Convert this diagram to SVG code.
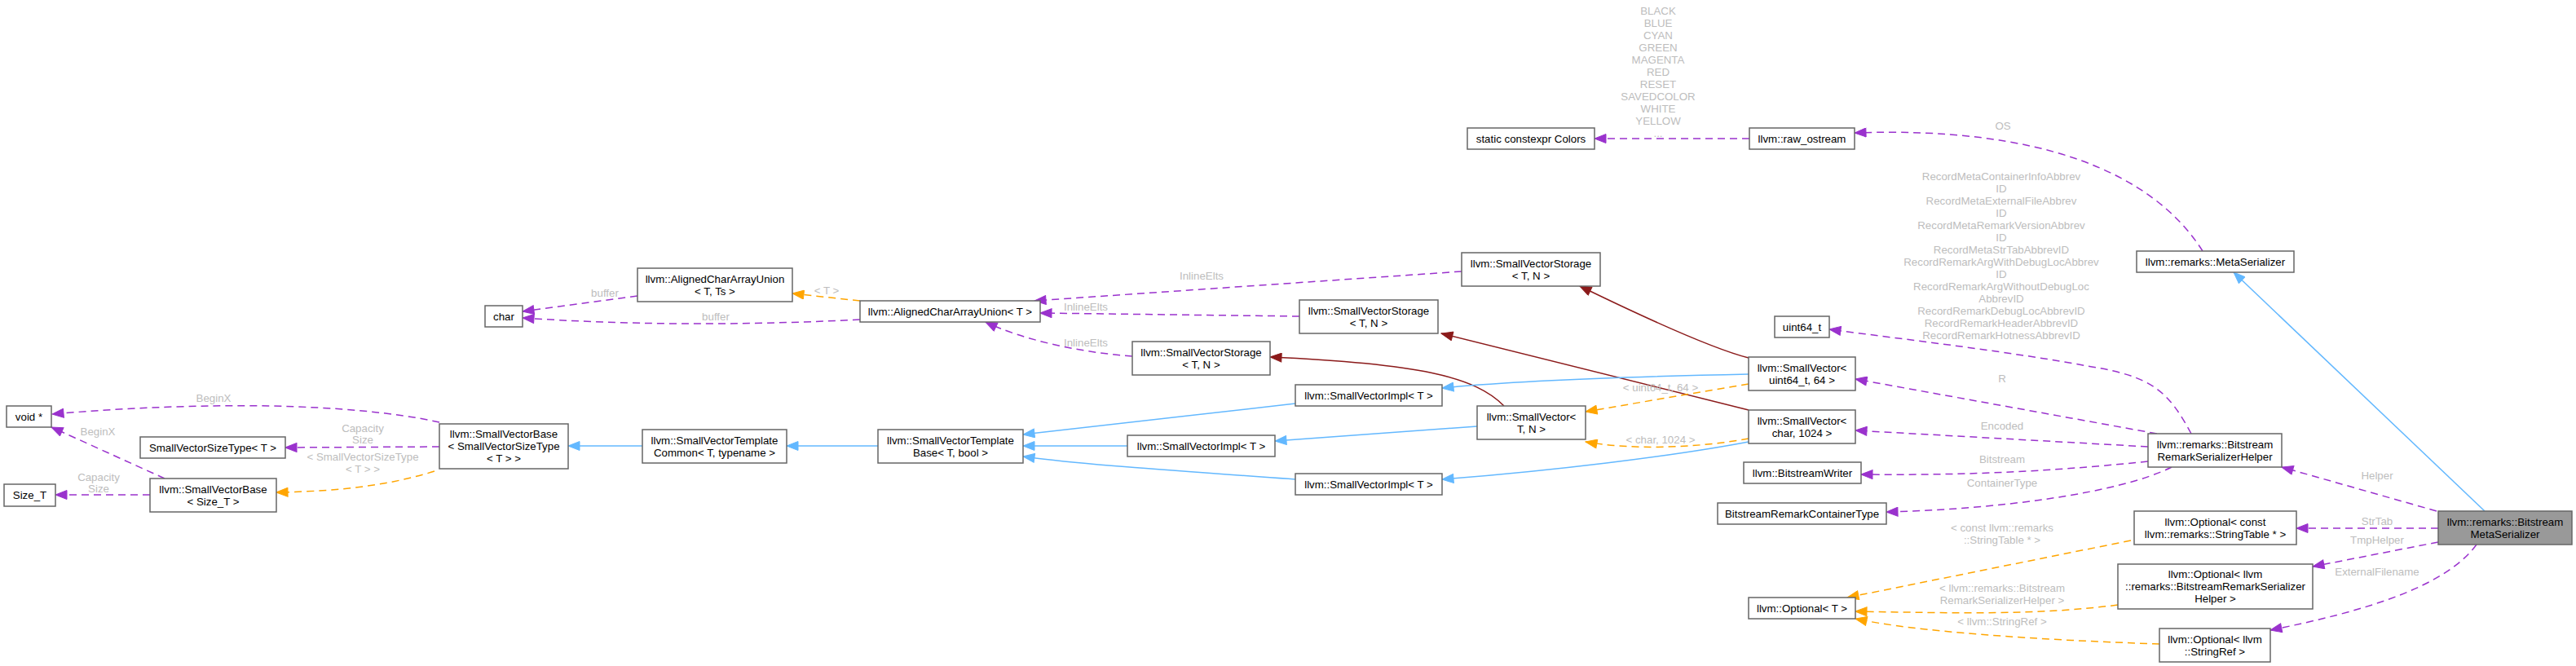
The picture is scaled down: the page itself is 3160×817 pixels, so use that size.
<svg xmlns="http://www.w3.org/2000/svg" width="3160" height="817" viewBox="0 0 3160 817">
<style>
.node rect{fill:#ffffff;stroke:#666666;stroke-width:1.5}
.main rect{fill:#999999;stroke:#666666;stroke-width:1.5}
text{font-family:"Liberation Sans",Arial,sans-serif;font-size:13.3px}
.node text,.main text{fill:#000000;text-anchor:middle}
.lbl{fill:#bdbdbd;text-anchor:middle}
.e{fill:none;stroke-width:1.5}
.u{stroke:#9a32cd;stroke-dasharray:9,6;marker-end:url(#mu)}
.t{stroke:#ffa500;stroke-dasharray:9,6;marker-end:url(#mt)}
.i{stroke:#63b8ff;marker-end:url(#mi)}
.p{stroke:#8b1a1a;marker-end:url(#mp)}
</style>
<defs>
<marker id="mu" markerUnits="userSpaceOnUse" markerWidth="16" markerHeight="12" refX="15" refY="6" orient="auto"><path d="M1,0.5 L15,6 L1,11.5 z" fill="#9a32cd" stroke="#9a32cd" stroke-width="1"/></marker>
<marker id="mt" markerUnits="userSpaceOnUse" markerWidth="16" markerHeight="12" refX="15" refY="6" orient="auto"><path d="M1,0.5 L15,6 L1,11.5 z" fill="#ffa500" stroke="#ffa500" stroke-width="1"/></marker>
<marker id="mi" markerUnits="userSpaceOnUse" markerWidth="16" markerHeight="12" refX="15" refY="6" orient="auto"><path d="M1,0.5 L15,6 L1,11.5 z" fill="#63b8ff" stroke="#63b8ff" stroke-width="1"/></marker>
<marker id="mp" markerUnits="userSpaceOnUse" markerWidth="16" markerHeight="12" refX="15" refY="6" orient="auto"><path d="M1,0.5 L15,6 L1,11.5 z" fill="#8b1a1a" stroke="#8b1a1a" stroke-width="1"/></marker>
</defs>
<rect x="0" y="0" width="3160" height="817" fill="#ffffff"/>

<g id="connectors">
<path class="e u" d="M539,518 C430,494 250,492 64,508"/>
<path class="e u" d="M202,587 L63,524"/>
<path class="e u" d="M539,548 L350,549"/>
<path class="e u" d="M184,607 L68,607"/>
<path class="e t" d="M533,578 C470,598 400,603 339,604"/>
<path class="e i" d="M788,547 L697,547"/>
<path class="e i" d="M1077,547 L965,547"/>
<path class="e u" d="M782,363 L641,382"/>
<path class="e u" d="M1055,392 C900,400 760,398 641,390"/>
<path class="e t" d="M1055,369 L972,360"/>
<path class="e u" d="M1793,333 L1269,369"/>
<path class="e u" d="M1594,388 L1276,384"/>
<path class="e u" d="M1389,437 C1320,432 1250,415 1209,395"/>
<path class="e p" d="M2145,439 Q2090,425 1938,351"/>
<path class="e p" d="M2145,503 L1768,409"/>
<path class="e p" d="M1845,498 C1810,462 1740,446 1558,438"/>
<path class="e i" d="M1589,495 L1255,533"/>
<path class="e i" d="M1383,547 L1255,547"/>
<path class="e i" d="M1589,588 C1450,578 1330,570 1255,560"/>
<path class="e i" d="M2145,459 C2000,462 1850,468 1769,476"/>
<path class="e i" d="M1812,523 L1564,541"/>
<path class="e i" d="M2145,542 C2050,560 1900,578 1769,588"/>
<path class="e i" d="M3048,627 L2740,334"/>
<path class="e t" d="M2145,471 L1945,505"/>
<path class="e t" d="M2145,538 C2080,550 2000,552 1945,542"/>
<path class="e u" d="M2688,532 C2660,480 2640,462 2566,450 C2470,432 2350,418 2244,404"/>
<path class="e u" d="M2646,532 L2276,465"/>
<path class="e u" d="M2635,548 L2276,528"/>
<path class="e u" d="M2635,566 C2500,580 2400,583 2283,582"/>
<path class="e u" d="M2664,573 C2600,605 2450,625 2314,628"/>
<path class="e u" d="M2989,627 L2799,573"/>
<path class="e u" d="M2991,648 L2817,648"/>
<path class="e u" d="M2991,665 L2837,695"/>
<path class="e u" d="M3038,668 C3000,720 2900,750 2785,773"/>
<path class="e t" d="M2614,663 L2266,733"/>
<path class="e t" d="M2598,742 C2500,755 2400,752 2276,750"/>
<path class="e t" d="M2649,790 C2500,785 2350,775 2276,759"/>
<path class="e u" d="M2702,308 C2640,210 2500,155 2275,163"/>
<path class="e u" d="M2146,170 L1956,170"/>
</g>

<g id="labels">
<text class="lbl" x="262" y="493">BeginX</text>
<text class="lbl" x="120" y="534">BeginX</text>
<text class="lbl" x="445" y="530">Capacity</text>
<text class="lbl" x="445" y="544">Size</text>
<text class="lbl" x="121" y="590">Capacity</text>
<text class="lbl" x="121" y="604">Size</text>
<text class="lbl" x="445" y="565">&lt; SmallVectorSizeType</text>
<text class="lbl" x="445" y="580">&lt; T &gt; &gt;</text>
<text class="lbl" x="742" y="364">buffer</text>
<text class="lbl" x="878" y="393">buffer</text>
<text class="lbl" x="1014" y="361">&lt; T &gt;</text>
<text class="lbl" x="1474" y="343">InlineElts</text>
<text class="lbl" x="1332" y="381">InlineElts</text>
<text class="lbl" x="1332" y="425">InlineElts</text>
<text class="lbl" x="2037" y="480">&lt; uint64_t, 64 &gt;</text>
<text class="lbl" x="2037" y="544">&lt; char, 1024 &gt;</text>
<text class="lbl" x="2034" y="17.5">BLACK</text>
<text class="lbl" x="2034" y="32.5">BLUE</text>
<text class="lbl" x="2034" y="47.5">CYAN</text>
<text class="lbl" x="2034" y="62.5">GREEN</text>
<text class="lbl" x="2034" y="77.5">MAGENTA</text>
<text class="lbl" x="2034" y="92.5">RED</text>
<text class="lbl" x="2034" y="107.5">RESET</text>
<text class="lbl" x="2034" y="122.5">SAVEDCOLOR</text>
<text class="lbl" x="2034" y="137.5">WHITE</text>
<text class="lbl" x="2034" y="152.5">YELLOW</text>
<text class="lbl" x="2034" y="167.5">...</text>
<text class="lbl" x="2457" y="159">OS</text>
<text class="lbl" x="2455" y="221">RecordMetaContainerInfoAbbrev</text>
<text class="lbl" x="2455" y="236">ID</text>
<text class="lbl" x="2455" y="251">RecordMetaExternalFileAbbrev</text>
<text class="lbl" x="2455" y="266">ID</text>
<text class="lbl" x="2455" y="281">RecordMetaRemarkVersionAbbrev</text>
<text class="lbl" x="2455" y="296">ID</text>
<text class="lbl" x="2455" y="311">RecordMetaStrTabAbbrevID</text>
<text class="lbl" x="2455" y="326">RecordRemarkArgWithDebugLocAbbrev</text>
<text class="lbl" x="2455" y="341">ID</text>
<text class="lbl" x="2455" y="356">RecordRemarkArgWithoutDebugLoc</text>
<text class="lbl" x="2455" y="371">AbbrevID</text>
<text class="lbl" x="2455" y="386">RecordRemarkDebugLocAbbrevID</text>
<text class="lbl" x="2455" y="401">RecordRemarkHeaderAbbrevID</text>
<text class="lbl" x="2455" y="416">RecordRemarkHotnessAbbrevID</text>
<text class="lbl" x="2456" y="469">R</text>
<text class="lbl" x="2456" y="527">Encoded</text>
<text class="lbl" x="2456" y="568">Bitstream</text>
<text class="lbl" x="2456" y="597">ContainerType</text>
<text class="lbl" x="2916" y="588">Helper</text>
<text class="lbl" x="2916" y="644">StrTab</text>
<text class="lbl" x="2916" y="667">TmpHelper</text>
<text class="lbl" x="2916" y="706">ExternalFilename</text>
<text class="lbl" x="2456" y="652">&lt; const llvm::remarks</text>
<text class="lbl" x="2456" y="667">::StringTable * &gt;</text>
<text class="lbl" x="2456" y="726">&lt; llvm::remarks::Bitstream</text>
<text class="lbl" x="2456" y="741">RemarkSerializerHelper &gt;</text>
<text class="lbl" x="2456" y="767">&lt; llvm::StringRef &gt;</text>
</g>

<g id="n_void" class="node"><rect x="8" y="498" width="55" height="26"/><text x="35.5" y="515.5">void *</text></g>
<g id="n_svst" class="node"><rect x="172" y="536" width="178" height="26"/><text x="261" y="553.5">SmallVectorSizeType&lt; T &gt;</text></g>
<g id="n_sizet" class="node"><rect x="5" y="594" width="63" height="27"/><text x="36.5" y="612">Size_T</text></g>
<g id="n_svb_sizet" class="node"><rect x="184" y="587" width="155" height="41"/><text x="261.5" y="604.5">llvm::SmallVectorBase</text><text x="261.5" y="619.5">&lt; Size_T &gt;</text></g>
<g id="n_svb_svst" class="node"><rect x="539" y="520" width="158" height="55"/><text x="618" y="537">llvm::SmallVectorBase</text><text x="618" y="552">&lt; SmallVectorSizeType</text><text x="618" y="567">&lt; T &gt; &gt;</text></g>
<g id="n_char" class="node"><rect x="595" y="375" width="46" height="26"/><text x="618" y="392.5">char</text></g>
<g id="n_acau_ts" class="node"><rect x="782" y="329" width="190" height="41"/><text x="877" y="346.5">llvm::AlignedCharArrayUnion</text><text x="877" y="361.5">&lt; T, Ts &gt;</text></g>
<g id="n_acau_t" class="node"><rect x="1055" y="369" width="221" height="26"/><text x="1165.5" y="386.5">llvm::AlignedCharArrayUnion&lt; T &gt;</text></g>
<g id="n_svtc" class="node"><rect x="788" y="527" width="177" height="41"/><text x="876.5" y="544.5">llvm::SmallVectorTemplate</text><text x="876.5" y="559.5">Common&lt; T, typename &gt;</text></g>
<g id="n_svtb" class="node"><rect x="1077" y="527" width="178" height="41"/><text x="1166" y="544.5">llvm::SmallVectorTemplate</text><text x="1166" y="559.5">Base&lt; T, bool &gt;</text></g>
<g id="n_svs_a" class="node"><rect x="1793" y="310" width="170" height="41"/><text x="1878" y="327.5">llvm::SmallVectorStorage</text><text x="1878" y="342.5">&lt; T, N &gt;</text></g>
<g id="n_svs_b" class="node"><rect x="1594" y="368" width="170" height="41"/><text x="1679" y="385.5">llvm::SmallVectorStorage</text><text x="1679" y="400.5">&lt; T, N &gt;</text></g>
<g id="n_svs_c" class="node"><rect x="1389" y="419" width="169" height="41"/><text x="1473.5" y="436.5">llvm::SmallVectorStorage</text><text x="1473.5" y="451.5">&lt; T, N &gt;</text></g>
<g id="n_svi_1" class="node"><rect x="1589" y="472" width="180" height="26"/><text x="1679" y="489.5">llvm::SmallVectorImpl&lt; T &gt;</text></g>
<g id="n_svi_2" class="node"><rect x="1383" y="534" width="181" height="26"/><text x="1473.5" y="551.5">llvm::SmallVectorImpl&lt; T &gt;</text></g>
<g id="n_svi_3" class="node"><rect x="1589" y="581" width="180" height="26"/><text x="1679" y="598.5">llvm::SmallVectorImpl&lt; T &gt;</text></g>
<g id="n_sv_tn" class="node"><rect x="1812" y="498" width="133" height="41"/><text x="1878.5" y="515.5">llvm::SmallVector&lt;</text><text x="1878.5" y="530.5">T, N &gt;</text></g>
<g id="n_sv_u64" class="node"><rect x="2145" y="438" width="131" height="41"/><text x="2210.5" y="455.5">llvm::SmallVector&lt;</text><text x="2210.5" y="470.5">uint64_t, 64 &gt;</text></g>
<g id="n_sv_char" class="node"><rect x="2145" y="503" width="131" height="41"/><text x="2210.5" y="520.5">llvm::SmallVector&lt;</text><text x="2210.5" y="535.5">char, 1024 &gt;</text></g>
<g id="n_bw" class="node"><rect x="2139" y="567" width="144" height="26"/><text x="2211" y="584.5">llvm::BitstreamWriter</text></g>
<g id="n_brct" class="node"><rect x="2107" y="617" width="207" height="26"/><text x="2210.5" y="634.5">BitstreamRemarkContainerType</text></g>
<g id="n_opt_t" class="node"><rect x="2145" y="733" width="131" height="26"/><text x="2210.5" y="750.5">llvm::Optional&lt; T &gt;</text></g>
<g id="n_opt_strtab" class="node"><rect x="2618" y="627" width="199" height="41"/><text x="2717.5" y="644.5">llvm::Optional&lt; const</text><text x="2717.5" y="659.5">llvm::remarks::StringTable * &gt;</text></g>
<g id="n_opt_helper" class="node"><rect x="2598" y="692" width="239" height="55"/><text x="2717.5" y="709">llvm::Optional&lt; llvm</text><text x="2717.5" y="724">::remarks::BitstreamRemarkSerializer</text><text x="2717.5" y="739">Helper &gt;</text></g>
<g id="n_opt_sref" class="node"><rect x="2649" y="771" width="136" height="41"/><text x="2717" y="788.5">llvm::Optional&lt; llvm</text><text x="2717" y="803.5">::StringRef &gt;</text></g>
<g id="n_helper" class="node"><rect x="2635" y="532" width="164" height="41"/><text x="2717" y="549.5">llvm::remarks::Bitstream</text><text x="2717" y="564.5">RemarkSerializerHelper</text></g>
<g id="n_bms" class="main"><rect x="2991" y="627" width="164" height="41"/><text x="3073" y="644.5">llvm::remarks::Bitstream</text><text x="3073" y="659.5">MetaSerializer</text></g>
<g id="n_meta" class="node"><rect x="2621" y="308" width="193" height="26"/><text x="2717.5" y="325.5">llvm::remarks::MetaSerializer</text></g>
<g id="n_raw" class="node"><rect x="2146" y="157" width="129" height="26"/><text x="2210.5" y="174.5">llvm::raw_ostream</text></g>
<g id="n_colors" class="node"><rect x="1800" y="157" width="156" height="26"/><text x="1878" y="174.5">static constexpr Colors</text></g>
<g id="n_u64" class="node"><rect x="2177" y="388" width="67" height="26"/><text x="2210.5" y="405.5">uint64_t</text></g>
</svg>
